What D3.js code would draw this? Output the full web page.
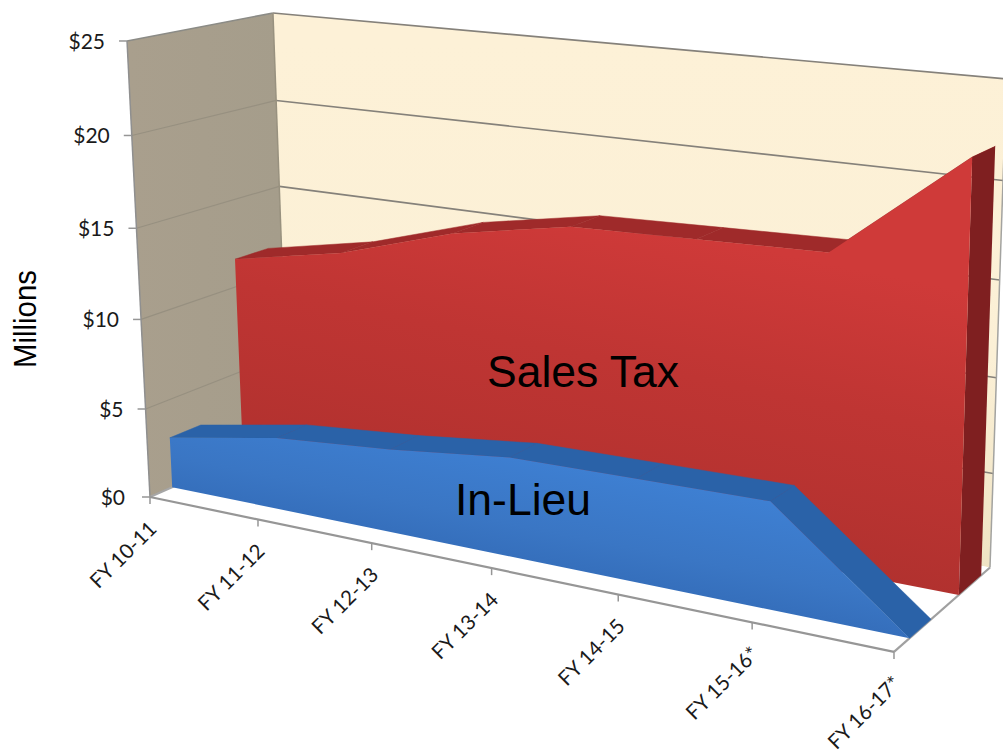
<!DOCTYPE html>
<html><head><meta charset="utf-8">
<script src="https://cdn.jsdelivr.net/npm/d3@7"></script>
<style>html,body{margin:0;padding:0;background:#fff;overflow:hidden}svg{display:block}</style>
</head><body><div id="chart"></div>
<script>
const categories = ["FY 10-11","FY 11-12","FY 12-13","FY 13-14","FY 14-15","FY 15-16*","FY 16-17*"];
const salesTax = [11.6,12.85,14.8,16.0,16.2,16.4,21.9];
const inLieu = [2.85,4.0,4.55,5.3,5.4,5.5,0];
const valueTicks = [0,5,10,15,20,25];

const W=1003,H=755;
const svg=d3.select("#chart").append("svg").attr("width",W).attr("height",H);
const defs=svg.append("defs");

const xS=d3.scalePoint().domain(categories).range([0,1]);
const yS=d3.scaleLinear().domain([0,25]).range([0,1]);

// perspective camera fitted to the chart box
const G=[-0.151,-0.0435,0.081];
const A=[150,609,-28.5,161.7], B=[497,56.5,-457.8,-25.7];
function proj(u,v,w){
  const d=1+G[0]*u+G[1]*v+G[2]*w;
  return [(A[0]+A[1]*u+A[2]*v+A[3]*w)/d,(B[0]+B[1]*u+B[2]*v+B[3]*w)/d];
}
const P=(c,val,w)=>proj(xS(c),yS(val),w);
const poly=pts=>"M"+pts.map(p=>p[0].toFixed(1)+","+p[1].toFixed(1)).join("L")+"Z";
const first=categories[0], last=categories[categories.length-1];
const grad=(id,x1,y1,x2,y2,stops)=>{
  const g=defs.append("linearGradient").attr("id",id).attr("gradientUnits","userSpaceOnUse")
    .attr("x1",x1).attr("y1",y1).attr("x2",x2).attr("y2",y2);
  stops.forEach(s=>g.append("stop").attr("offset",s[0]).attr("stop-color",s[1]));
};
grad("gBack",600,40,600,570,[[0,"#fdf1d7"],[0.6,"#fbf0d6"],[1,"#efe3c4"]]);
grad("gLeft",130,40,280,40,[[0,"#a99f8d"],[1,"#a59d8b"]]);
grad("gRed",620,220,540,610,[[0,"#cf3a39"],[0.35,"#bf3533"],[1,"#a92f2c"]]);
grad("gBlue",560,440,520,640,[[0,"#3f82d6"],[0.45,"#3a76c4"],[1,"#2a5ea8"]]);

// walls and floor
svg.append("path").attr("d",poly([proj(0,0,0),proj(0,1,0),proj(0,1,1),proj(0,0,1)])).attr("fill","url(#gLeft)");
svg.append("path").attr("d",poly([proj(0,0,1),proj(0,1,1),proj(1,1,1),proj(1,0,1)])).attr("fill","url(#gBack)");
svg.append("path").attr("d",poly([proj(0,0,0),proj(1,0,0),proj(1,0,1),proj(0,0,1)])).attr("fill","#ffffff");

const line=(a,b,col,wd)=>svg.append("line").attr("x1",a[0]).attr("y1",a[1]).attr("x2",b[0]).attr("y2",b[1])
  .attr("stroke",col).attr("stroke-width",wd);

// gridlines
valueTicks.filter(t=>t>0).forEach(t=>{
  const v=yS(t);
  line(proj(0,v,0),proj(0,v,1),t===25?"#8b8b86":"#979080",t===25?1.6:1.2);
  line(proj(0,v,1),proj(1,v,1),"#85817a",1.6);
});
line(proj(0,0,1),proj(0,1,1),"#98917f",1.5);
line(proj(1,0,1),proj(1,1,1),"#a3a3a0",1.5);
line(proj(0,0,0),proj(0,1,0),"#8f8f8f",1.5);
line(proj(0,0,0),proj(0,0,1),"#a6a6a6",2);
line(proj(1,0,0),proj(1,0,1),"#a0a0a0",2.2);
line(proj(0,0,0),proj(1,0,0),"#969696",2.2);

// 3-D area series
function area3d(values,w0,w1,topCol,sideCol,fill){
  const g=svg.append("g");
  const segs=d3.pairs(categories.map((c,i)=>({c,val:values[i]})));
  g.selectAll("path.top").data(segs).join("path").attr("class","top")
    .attr("d",([a,b])=>poly([P(a.c,a.val,w0),P(b.c,b.val,w0),P(b.c,b.val,w1),P(a.c,a.val,w1)]))
    .attr("fill",topCol).attr("stroke",topCol).attr("stroke-width",0.5);
  const lv=values[values.length-1];
  g.append("path").attr("d",poly([P(last,0,w0),P(last,lv,w0),P(last,lv,w1),P(last,0,w1)])).attr("fill",sideCol);
  const front=categories.map((c,i)=>P(c,values[i],w0)).concat([P(last,0,w0),P(first,0,w0)]);
  g.append("path").attr("d",poly(front)).attr("fill",fill);
}
area3d(salesTax,0.655,0.9,"#9f2a2a","#7f1f20","url(#gRed)");
area3d(inLieu,0.15,0.365,"#2a62a8","#2a62a8","url(#gBlue)");

// value axis
const valFmt=d=>"$"+d;
const valLabels=svg.append("g").attr("font-family","Lato, 'Open Sans', sans-serif").attr("font-size",21).attr("fill","#1a1a1a");
valueTicks.forEach(t=>{
  const p=proj(0,yS(t),0);
  line([p[0]-8,p[1]],p,"#969696",1.5);
  valLabels.append("text").attr("x",p[0]-(t===0?25:22)).attr("y",p[1]+8).attr("text-anchor","end").text(valFmt(t));
});

// category axis
const catLabels=svg.append("g").attr("font-family","Lato, 'Open Sans', sans-serif").attr("font-size",20.5).attr("fill","#1a1a1a");
categories.forEach(c=>{
  const p=P(c,0,0);
  line(p,[p[0],p[1]+7],"#969696",1.5);
  catLabels.append("text").attr("text-anchor","end")
    .attr("transform",`translate(${p[0]+8},${p[1]+33}) rotate(-45)`).text(c);
});

// titles and labels
svg.append("text").attr("transform","translate(36,368) rotate(-90) scale(1.05,1.15)")
  .attr("font-family","'Liberation Sans',Arial,sans-serif").attr("font-size",28).attr("fill","#000").text("Millions");
const big=svg.append("g").attr("font-family","'Liberation Sans',Arial,sans-serif").attr("font-size",44.5).attr("fill","#000");
big.append("text").attr("x",487).attr("y",387).text("Sales Tax");
big.append("text").attr("x",455).attr("y",515).text("In-Lieu");
</script></body></html>
